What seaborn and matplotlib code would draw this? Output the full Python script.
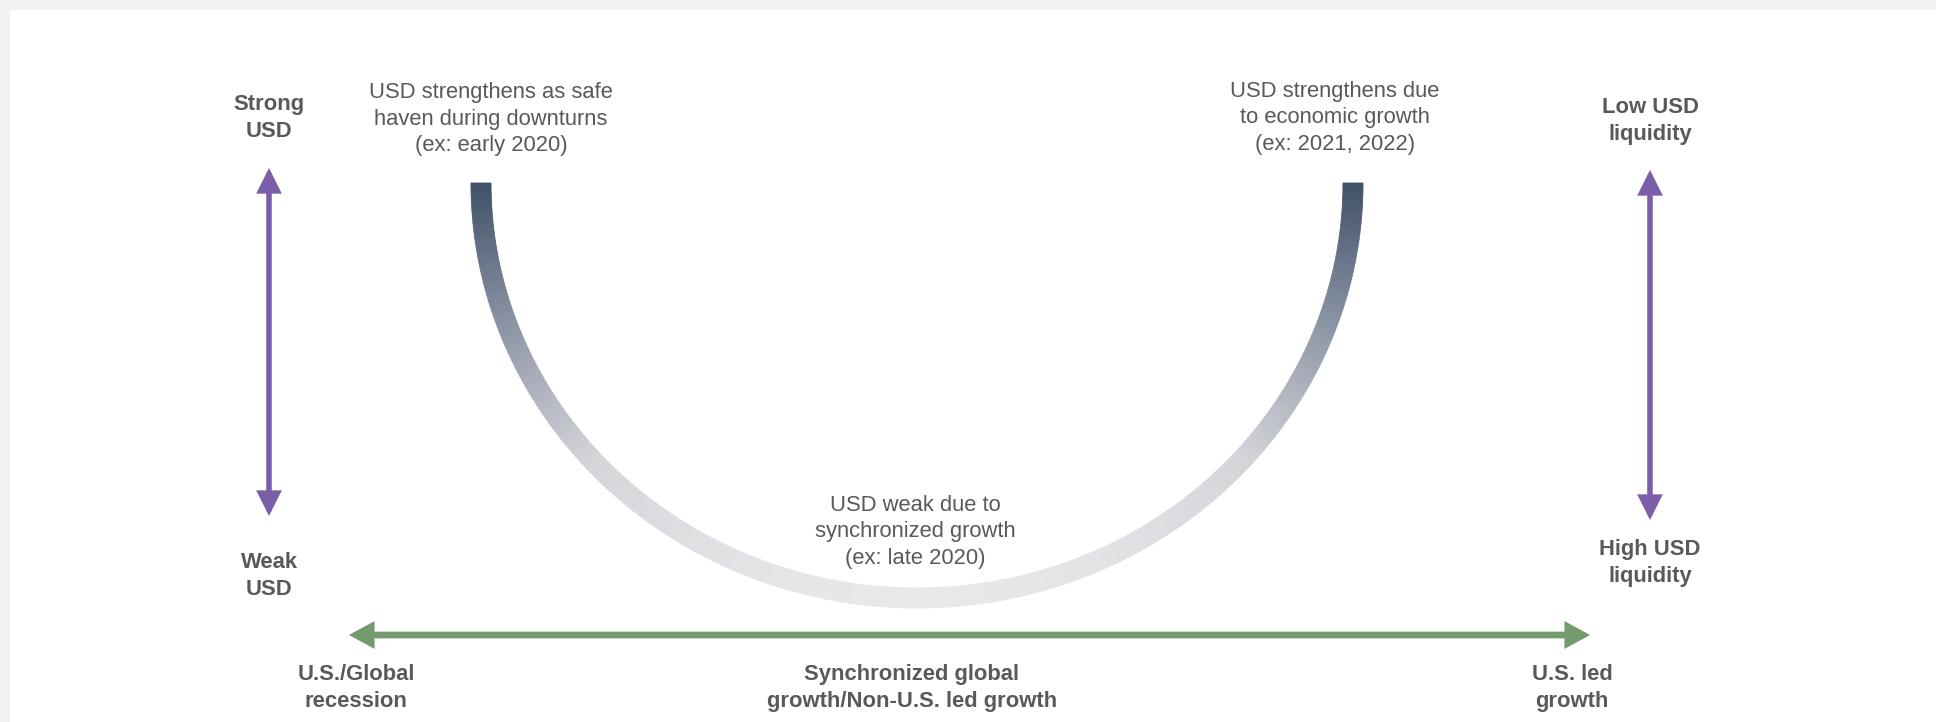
import numpy as np
import matplotlib
matplotlib.use("Agg")
import matplotlib.pyplot as plt
from matplotlib.collections import PolyCollection
from matplotlib.patches import FancyArrowPatch, Rectangle
import seaborn as sns

# ---- content -------------------------------------------------------------
curve_notes = [
    "USD strengthens as safe\nhaven during downturns\n(ex: early 2020)",
    "USD weak due to\nsynchronized growth\n(ex: late 2020)",
    "USD strengthens due\nto economic growth\n(ex: 2021, 2022)",
]
left_axis_labels = ["Strong\nUSD", "Weak\nUSD"]
right_axis_labels = ["Low USD\nliquidity", "High USD\nliquidity"]
bottom_axis_labels = [
    "U.S./Global\nrecession",
    "Synchronized global\ngrowth/Non-U.S. led growth",
    "U.S. led\ngrowth",
]

# ---- layout (pixel space of the panel) -----------------------------------
W, H = 1936, 722
smile_center = (917, 183)
smile_radii = (436, 415)
smile_width = 20

note_pos = [(491, 119), (915, 532), (1335, 118)]
left_label_pos = [(269, 118), (269, 576)]
right_label_pos = [(1650, 121), (1650, 563)]
bottom_label_pos = [(356, 688), (912, 688), (1572, 688)]

left_arrow = [(269, 516), (269, 168)]
right_arrow = [(1650, 520), (1650, 170)]
bottom_arrow = [(349, 635), (1590, 635)]

TEXT = "#595959"
PURPLE = "#7b5ea7"
GREEN = "#739b6e"

sns.set_theme(style="white")
plt.rcParams["font.family"] = ["Liberation Sans", "DejaVu Sans"]

fig = plt.figure(figsize=(W / 100, H / 100), dpi=100, facecolor="#f2f2f2")
ax = fig.add_axes([0, 0, 1, 1])
ax.set_xlim(0, W)
ax.set_ylim(H, 0)
ax.set_axis_off()

# white panel
ax.add_patch(Rectangle((10, 10), W - 10, H - 10, facecolor="white", edgecolor="none", zorder=0))

# ---- gradient "smile" curve ---------------------------------------------
cmap = sns.blend_palette(["#3f5068", "#8a93a3", "#d4d4d9", "#e8e7ea"], as_cmap=True)
cx, cy = smile_center
rx, ry = smile_radii
t = np.linspace(0, np.pi, 400)
half = smile_width / 2
outer = np.column_stack([cx + (rx + half) * np.cos(t), cy + (ry + half) * np.sin(t)])
inner = np.column_stack([cx + (rx - half) * np.cos(t), cy + (ry - half) * np.sin(t)])
quads = [np.array([outer[i], outer[i + 1], inner[i + 1], inner[i]]) for i in range(len(t) - 1)]
depth = np.sin((t[:-1] + t[1:]) / 2)
pc = PolyCollection(quads, facecolors=cmap(depth), edgecolors=cmap(depth), linewidths=0.6, zorder=2)
ax.add_collection(pc)

# ---- arrows --------------------------------------------------------------
def double_arrow(pts, color, lw, hl, hw):
    arr = FancyArrowPatch(
        pts[0], pts[1],
        arrowstyle=f"<|-|>,head_length={hl},head_width={hw}",
        mutation_scale=1, color=color, lw=lw,
        shrinkA=0, shrinkB=0, joinstyle="miter", zorder=3,
    )
    ax.add_patch(arr)

double_arrow(left_arrow, PURPLE, 4.0, 12, 6)
double_arrow(right_arrow, PURPLE, 4.0, 12, 6)
double_arrow(bottom_arrow, GREEN, 4.8, 11, 6)

# ---- text ----------------------------------------------------------------
FS = 15.8
LS = 1.36
for txt, (x, y) in zip(curve_notes, note_pos):
    ax.text(x, y, txt, ha="center", va="center", fontsize=FS, color=TEXT, linespacing=LS)
for labels, positions in [(left_axis_labels, left_label_pos),
                          (right_axis_labels, right_label_pos),
                          (bottom_axis_labels, bottom_label_pos)]:
    for txt, (x, y) in zip(labels, positions):
        ax.text(x, y, txt, ha="center", va="center", fontsize=FS, color=TEXT,
                fontweight="bold", linespacing=LS)

fig.savefig("out.png", dpi=100, facecolor=fig.get_facecolor())
